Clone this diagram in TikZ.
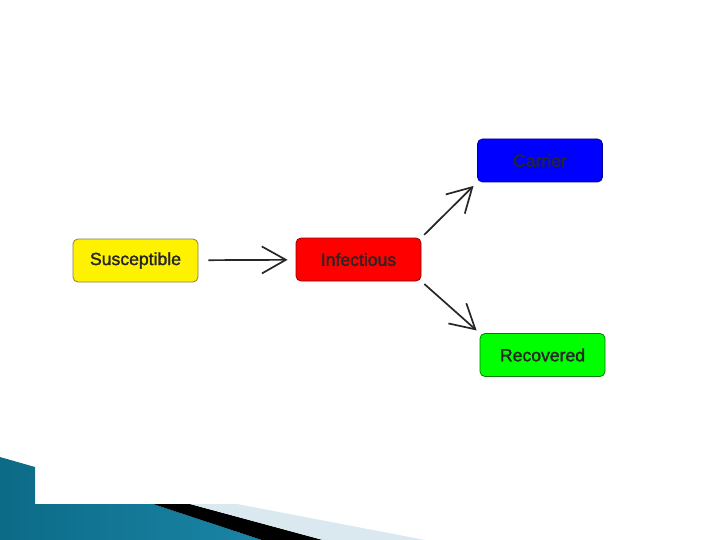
\documentclass[tikz,border=0pt]{standalone}
\usepackage{fontspec}
\setmainfont{Liberation Sans}
\newfontfamily\boxfont[FakeBold=1.6]{Liberation Sans}
\usetikzlibrary{arrows.meta}

\definecolor{bandleft}{HTML}{0C6B87}
\definecolor{bandmid}{HTML}{4AB3D3}
\definecolor{bandright}{HTML}{1A85A6}
\definecolor{stripe}{HTML}{DAE8EF}

\begin{document}
\begin{tikzpicture}[
  x=1pt, y=-1pt,
  every node/.style={rectangle, rounded corners=5pt, draw, line width=0.8pt,
    minimum width=125pt, minimum height=43pt, inner sep=0pt, text=black!85,
    font=\boxfont\fontsize{17.6}{20}\selectfont},
  link/.style={-{Straight Barb[length=24pt,width=27pt]}, line width=1.7pt, draw=black!85}
]
  \useasboundingbox (0,0) rectangle (720,540);
  % bottom band
  \shade[left color=bandleft, middle color=bandmid, right color=bandright]
    (0,457) -- (35,467) -- (35,504) -- (153,504) -- (262,540) -- (0,540) -- cycle;
  \fill[black] (153,504) -- (190,504) -- (323,540) -- (262,540) -- cycle;
  \fill[stripe] (190,504) -- (237,504) -- (425,540) -- (323,540) -- cycle;

  \node[fill=yellow, draw=yellow!45!black] (s) at (135.5,260.5) {Susceptible};
  \node[fill=red, draw=red!60!black]       (i) at (358.5,259.5) {Infectious};
  \node[fill=blue, draw=blue!60!black]     (c) at (540,160.5)   {Carrier};
  \node[fill=green, draw=green!50!black]   (r) at (542.5,355)   {Recovered};

  \draw[link, shorten <=10pt, shorten >=8pt] (s) -- (i);
  \draw[link, shorten <=4pt, shorten >=5pt] (i.north east) -- (c.south west);
  \draw[link, shorten <=4pt, shorten >=4pt] (i.south east) -- (r.north west);
\end{tikzpicture}
\end{document}
